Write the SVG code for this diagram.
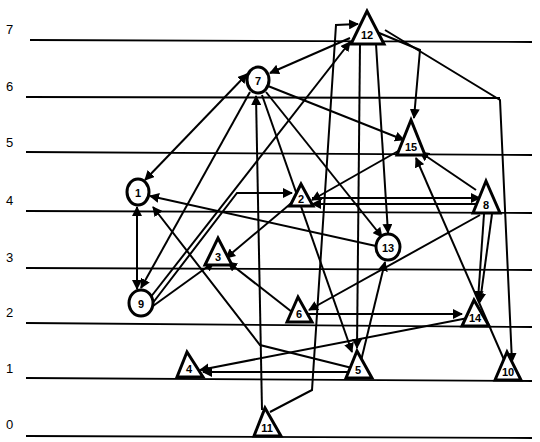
<svg xmlns="http://www.w3.org/2000/svg" width="540" height="442" viewBox="0 0 540 442">
<style>
.lvl{stroke:#000;stroke-width:1.8;fill:none}
.lt{font-family:"Liberation Sans",Arial,sans-serif;font-size:13px;fill:#000}
.e{stroke:#000;stroke-width:2;fill:none;marker-end:url(#a)}
.b{stroke:#000;stroke-width:2;fill:none;marker-start:url(#s);marker-end:url(#a)}
.n{stroke:#000;stroke-width:3;fill:#fff}
.nt{font-family:"Liberation Sans",Arial,sans-serif;font-weight:bold;font-size:11px;fill:#000;text-anchor:middle}
</style>
<defs>
<marker id="a" viewBox="0 0 10 10" refX="9" refY="5" markerWidth="5" markerHeight="5" orient="auto"><path d="M0,0L10,5L0,10z" fill="#000"/></marker>
<marker id="s" viewBox="0 0 10 10" refX="1" refY="5" markerWidth="5" markerHeight="5" orient="auto"><path d="M10,0L0,5L10,10z" fill="#000"/></marker>
</defs>
<rect width="540" height="442" fill="#fff"/>
<g id="levels">
<text class="lt" x="6" y="34">7</text><line class="lvl" x1="30" y1="40" x2="532" y2="42"/>
<text class="lt" x="6" y="91">6</text><line class="lvl" x1="26" y1="97" x2="500" y2="98"/>
<text class="lt" x="6" y="147">5</text><line class="lvl" x1="26" y1="152" x2="532" y2="155"/>
<text class="lt" x="6" y="205">4</text><line class="lvl" x1="26" y1="211" x2="532" y2="213"/>
<text class="lt" x="6" y="262">3</text><line class="lvl" x1="26" y1="268" x2="532" y2="270"/>
<text class="lt" x="6" y="317">2</text><line class="lvl" x1="26" y1="323" x2="532" y2="327"/>
<text class="lt" x="6" y="373">1</text><line class="lvl" x1="26" y1="378" x2="532" y2="381"/>
<text class="lt" x="6" y="429">0</text><line class="lvl" x1="26" y1="436" x2="532" y2="438"/>
</g>
<g id="connectors">
<line class="b" x1="145" y1="180" x2="247" y2="74"/>
<line class="b" x1="137" y1="207" x2="137" y2="289"/>
<line class="e" x1="250" y1="92" x2="141" y2="288"/>
<line class="e" x1="150" y1="298" x2="350" y2="42"/>
<polyline class="e" points="152,304 237,193 292,193"/>
<line class="e" x1="153" y1="306" x2="214" y2="262"/>
<line class="e" x1="268" y1="86" x2="404" y2="140"/>
<line class="e" x1="350" y1="38" x2="270" y2="73"/>
<line class="e" x1="262" y1="410" x2="256" y2="96"/>
<polyline class="e" points="270,412 312,390 336,25 358,24"/>
<polyline class="e" points="372,30 420,50 414,118"/>
<line class="e" x1="376" y1="44" x2="388" y2="233"/>
<line class="e" x1="266" y1="92" x2="382" y2="237"/>
<line class="e" x1="360" y1="44" x2="357" y2="348"/>
<line class="e" x1="262" y1="95" x2="352" y2="352"/>
<line class="e" x1="400" y1="150" x2="312" y2="200"/>
<line class="e" x1="476" y1="190" x2="420" y2="152"/>
<line class="e" x1="505" y1="362" x2="416" y2="158"/>
<polyline class="e" points="385,30 500,100 512,362"/>
<line class="e" x1="312" y1="198" x2="480" y2="198"/>
<line class="e" x1="480" y1="204" x2="312" y2="204"/>
<line class="e" x1="484" y1="214" x2="478" y2="300"/>
<line class="e" x1="492" y1="214" x2="480" y2="302"/>
<line class="e" x1="480" y1="215" x2="309" y2="310"/>
<line class="e" x1="376" y1="246" x2="150" y2="196"/>
<polyline class="e" points="352,368 260,345 153,207"/>
<line class="e" x1="295" y1="200" x2="226" y2="258"/>
<line class="e" x1="292" y1="312" x2="228" y2="262"/>
<line class="e" x1="468" y1="318" x2="200" y2="370"/>
<line class="e" x1="350" y1="372" x2="203" y2="372"/>
<line class="e" x1="360" y1="365" x2="385" y2="262"/>
<line class="e" x1="306" y1="314" x2="462" y2="314"/>
</g>
<g id="n12"><polygon class="n" points="351,44 367,11 384,44"/><text class="nt" x="367" y="39">12</text></g>
<g id="n7"><ellipse class="n" cx="258" cy="80" rx="11" ry="13"/><text class="nt" x="258" y="85">7</text></g>
<g id="n15"><polygon class="n" points="397,155 411,120 425,155"/><text class="nt" x="411" y="151">15</text></g>
<g id="n1"><ellipse class="n" cx="138" cy="192" rx="11" ry="13"/><text class="nt" x="138" y="197">1</text></g>
<g id="n2"><polygon class="n" points="290,206 301,184 313,206"/><text class="nt" x="301" y="203">2</text></g>
<g id="n8"><polygon class="n" points="473,213 486,181 500,213"/><text class="nt" x="486" y="209">8</text></g>
<g id="n3"><polygon class="n" points="205,265 218,238 232,265"/><text class="nt" x="218" y="261">3</text></g>
<g id="n13"><ellipse class="n" cx="388" cy="247" rx="12" ry="13"/><text class="nt" x="388" y="252">13</text></g>
<g id="n9"><ellipse class="n" cx="141" cy="303" rx="12" ry="13"/><text class="nt" x="141" y="308">9</text></g>
<g id="n6"><polygon class="n" points="287,322 298,297 312,322"/><text class="nt" x="299" y="318">6</text></g>
<g id="n14"><polygon class="n" points="462,326 474,300 489,326"/><text class="nt" x="475" y="322">14</text></g>
<g id="n4"><polygon class="n" points="177,377 187,352 203,377"/><text class="nt" x="189" y="373">4</text></g>
<g id="n5"><polygon class="n" points="346,378 357,351 372,378"/><text class="nt" x="358" y="374">5</text></g>
<g id="n10"><polygon class="n" points="495,380 507,352 521,380"/><text class="nt" x="508" y="376">10</text></g>
<g id="n11"><polygon class="n" points="254,436 265,408 281,436"/><text class="nt" x="267" y="432">11</text></g>
</svg>
